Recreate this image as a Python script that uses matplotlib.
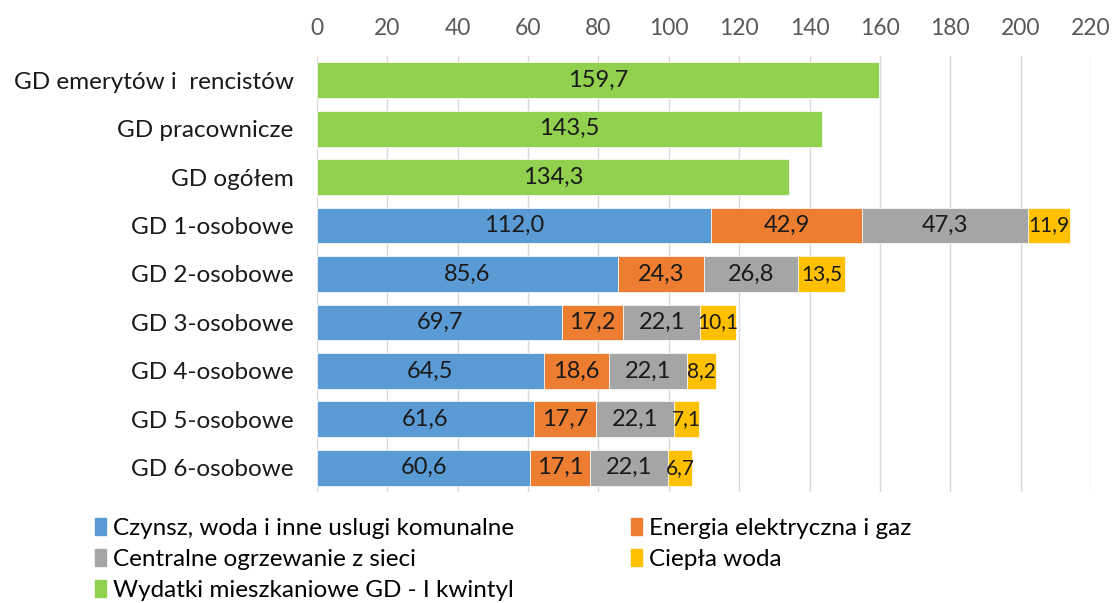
import numpy as np
import matplotlib
matplotlib.use('Agg')
import matplotlib.pyplot as plt
from matplotlib.patches import Patch

plt.rcParams['font.family'] = ['Lato', 'DejaVu Sans']

# dane
categories = ['GD emerytów i  rencistów', 'GD pracownicze', 'GD ogółem',
              'GD 1-osobowe', 'GD 2-osobowe', 'GD 3-osobowe',
              'GD 4-osobowe', 'GD 5-osobowe', 'GD 6-osobowe']
kwintyl = [159.7, 143.5, 134.3]
czynsz = [112.0, 85.6, 69.7, 64.5, 61.6, 60.6]
energia = [42.9, 24.3, 17.2, 18.6, 17.7, 17.1]
ogrzewanie = [47.3, 26.8, 22.1, 22.1, 22.1, 22.1]
ciepla_woda = [11.9, 13.5, 10.1, 8.2, 7.1, 6.7]
x_ticks = list(range(0, 221, 20))

c_blue = '#5B9BD5'
c_orange = '#ED7D31'
c_gray = '#A5A5A5'
c_yellow = '#FFC000'
c_green = '#92D050'

fig = plt.figure(figsize=(11.13, 6.03), dpi=100)
ax = fig.add_axes([317 / 1113, 1 - 492 / 603, (1091 - 317) / 1113, (492 - 56) / 603])

y = np.arange(len(categories))
h = 0.74

def label_bars(bars, values, size=17):
    for b, v in zip(bars, values):
        ax.text(b.get_x() + b.get_width() / 2, b.get_y() + b.get_height() / 2,
                f'{v:.1f}'.replace('.', ','), ha='center', va='center',
                fontsize=size, color='#1a1a1a')

bars = ax.barh(y[:3], kwintyl, height=h, color=c_green, edgecolor='white', linewidth=0.5)
label_bars(bars, kwintyl)

ys = y[3:]
left = np.zeros(len(czynsz))
series = [(czynsz, c_blue, 17), (energia, c_orange, 17), (ogrzewanie, c_gray, 17), (ciepla_woda, c_yellow, 15)]
for vals, col, fs in series:
    bars = ax.barh(ys, vals, left=left, height=h, color=col, edgecolor='white', linewidth=0.5)
    label_bars(bars, vals, fs)
    left = left + np.array(vals)

ax.set_xlim(0, 220)
ax.set_ylim(len(categories) - 0.5, -0.5)
ax.set_xticks(x_ticks)
ax.xaxis.tick_top()
ax.tick_params(axis='x', length=0, labelsize=16.5, labelcolor='#595959', pad=12)
ax.set_yticks(y)
ax.set_yticklabels(categories)
ax.tick_params(axis='y', length=0, labelsize=17.5, labelcolor='#1a1a1a', pad=17)
ax.grid(axis='x', color='#D9D9D9', linewidth=1)
ax.set_axisbelow(True)
for s in ax.spines.values():
    s.set_visible(False)

handles = [
    Patch(color=c_blue, label='Czynsz, woda i inne uslugi komunalne'),
    Patch(color=c_gray, label='Centralne ogrzewanie z sieci'),
    Patch(color=c_green, label='Wydatki mieszkaniowe GD - I kwintyl'),
    Patch(color=c_orange, label='Energia elektryczna i gaz'),
    Patch(color=c_yellow, label='Ciepła woda'),
]
fig.legend(handles=handles, loc='upper left', bbox_to_anchor=(95 / 1113, 1 - 518 / 603),
           ncol=2, frameon=False, fontsize=17.5, handlelength=0.45, handleheight=0.7,
           handletextpad=0.3, columnspacing=4.8, labelspacing=0.42,
           borderpad=0, borderaxespad=0)

fig.savefig('out.png', dpi=100)
